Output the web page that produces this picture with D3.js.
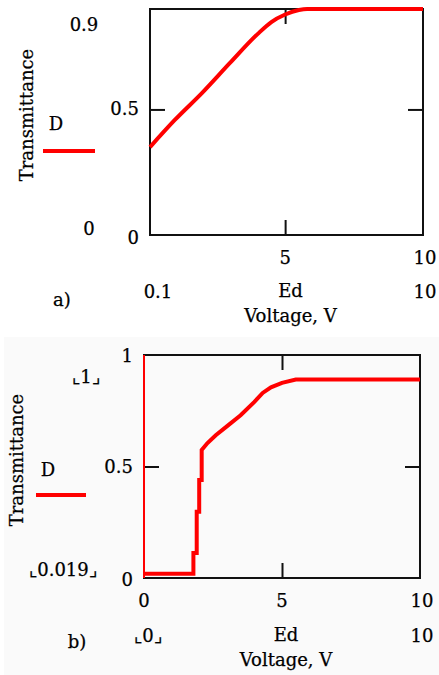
<!DOCTYPE html>
<html><head><meta charset="utf-8">
<script src="https://cdn.jsdelivr.net/npm/d3@7"></script>
<style>
html,body{margin:0;padding:0;background:#fff;}
svg{display:block;}
text{font-family:"DejaVu Serif","Liberation Serif",serif;font-size:18px;fill:#000;stroke:#000;stroke-width:0.25px;}
</style></head><body>
<svg id="c" width="439" height="675"></svg>
<script>
// Panel a data: voltage (V) vs transmittance
const voltageA = [0.1, 1.0, 2.0, 3.0, 4.0, 4.5, 5.0, 5.5, 5.8, 10];
const transA   = [0.35, 0.458, 0.567, 0.685, 0.80, 0.848, 0.878, 0.896, 0.9, 0.9];
// Panel b data
const voltageB = [0, 1.79, 1.79, 1.91, 1.91, 2.0, 2.0, 2.09, 2.09, 2.3, 2.6, 3.0, 3.5, 4.0, 4.3, 4.6, 5.0, 5.5, 10];
const transB   = [0.019, 0.019, 0.112, 0.112, 0.297, 0.297, 0.44, 0.44, 0.574, 0.605, 0.64, 0.68, 0.73, 0.79, 0.83, 0.855, 0.875, 0.89, 0.89];
const edgeVoltB = [0, 0];
const edgeTransB = [1, 0];
// axis limits / ticks
const xDomainA = [0.1, 10], yDomainA = [0, 0.9];
const xDomainB = [0, 10],   yDomainB = [0, 1];
const xTicksA = [5, 10], yTicksA = [0, 0.5];
const xTicksB = [0, 5, 10], yTicksB = [0, 0.5, 1];
const xInnerTicks = [5], yInnerTicks = [0.5];
const limitsA = {ymax: "0.9", ymin: "0", xmin: "0.1", xmax: "10"};
const limitsB = {ymax: "\u231E1\u231F", ymin: "\u231E0.019\u231F", xmin: "\u231E0\u231F", xmax: "10"};
const seriesName = "D", xName = "Ed", xTitle = "Voltage, V", yTitle = "Transmittance";

const svg = d3.select("#c");
svg.append("rect").attr("x",4).attr("y",337).attr("width",435).attr("height",338).attr("fill","#fafafa");

function panel(o){
  const g = svg.append("g");
  const x = d3.scaleLinear().domain(o.xd).range([o.l, o.r]);
  const y = d3.scaleLinear().domain(o.yd).range([o.b, o.t]);
  const tl = 15;
  g.append("g").attr("transform",`translate(0,${o.b})`).call(d3.axisBottom(x).tickValues(xInnerTicks).tickSize(-tl).tickFormat("")).call(s=>s.select(".domain").remove());
  g.append("g").attr("transform",`translate(0,${o.t})`).call(d3.axisTop(x).tickValues(xInnerTicks).tickSize(-tl).tickFormat("")).call(s=>s.select(".domain").remove());
  g.append("g").attr("transform",`translate(${o.l},0)`).call(d3.axisLeft(y).tickValues(yInnerTicks).tickSize(-tl).tickFormat("")).call(s=>s.select(".domain").remove());
  g.append("g").attr("transform",`translate(${o.r},0)`).call(d3.axisRight(y).tickValues(yInnerTicks).tickSize(-tl).tickFormat("")).call(s=>s.select(".domain").remove());
  g.selectAll(".tick line").attr("stroke","#111").attr("stroke-width",2);
  // frame
  g.append("rect").attr("x",o.l).attr("y",o.t).attr("width",o.r-o.l).attr("height",o.b-o.t)
    .attr("fill","none").attr("stroke","#111").attr("stroke-width",2);
  // tick labels
  o.xt.forEach(v=>g.append("text").attr("x",x(v)+ (v===o.xd[1]?2:0)).attr("y",o.b+29).attr("text-anchor","middle").text(d3.format("~g")(v)));
  o.yt.forEach(v=>g.append("text").attr("x",o.l-11).attr("y",y(v)+o.ylOff(v)).attr("text-anchor","end").text(d3.format("~g")(v)));
  // line
  const line = d3.line().x(d=>x(d[0])).y(d=>y(d[1]));
  if(o.edge) g.append("path").datum(d3.zip(o.edge[0],o.edge[1])).attr("d",line).attr("fill","none").attr("stroke","#ff0000").attr("stroke-width",2);
  const mainLine = o.smooth ? d3.line().x(d=>x(d[0])).y(d=>y(d[1])).curve(d3.curveMonotoneX) : line;
  g.append("path").datum(d3.zip(o.xv,o.yv)).attr("d",mainLine).attr("fill","none").attr("stroke","#ff0000").attr("stroke-width",4).attr("stroke-linejoin","miter");
  // limits
  g.append("text").attr("x",o.ymaxPos[0]).attr("y",o.ymaxPos[1]).attr("text-anchor","middle").text(o.lim.ymax);
  g.append("text").attr("x",o.yminPos[0]).attr("y",o.yminPos[1]).attr("text-anchor","middle").text(o.lim.ymin);
  g.append("text").attr("x",o.xminPos[0]).attr("y",o.xminPos[1]).attr("text-anchor","middle").text(o.lim.xmin);
  g.append("text").attr("x",x(o.xd[1])+2).attr("y",o.xminPos[1]).attr("text-anchor","middle").text(o.lim.xmax);
  g.append("text").attr("x",(o.l+o.r)/2+4).attr("y",o.xminPos[1]-1).attr("text-anchor","middle").text(xName);
  g.append("text").attr("x",(o.l+o.r)/2+4).attr("y",o.xminPos[1]+24).attr("text-anchor","middle").text(xTitle);
  g.append("text").attr("x",o.tag[0]).attr("y",o.tag[1]).attr("text-anchor","middle").text(o.tagText);
  // y title
  g.append("text").attr("transform",`translate(${o.yTitle[0]},${o.yTitle[1]}) rotate(-90)`).attr("text-anchor","middle").text(yTitle);
  // legend
  g.append("text").attr("x",o.leg[0]).attr("y",o.leg[1]).attr("text-anchor","middle").text(seriesName);
  g.append("line").attr("x1",o.legLine[0]).attr("x2",o.legLine[1]).attr("y1",o.legLine[2]).attr("y2",o.legLine[2]).attr("stroke","#ff0000").attr("stroke-width",4);
}

panel({xd:xDomainA, yd:yDomainA, l:150, r:423, t:9, b:235, xt:xTicksA, yt:yTicksA, smooth:true,
  ylOff:v=>v===0?9:6, xv:voltageA, yv:transA, lim:limitsA,
  ymaxPos:[84,31], yminPos:[89,235], xminPos:[158,298], tag:[62,306], tagText:"a)",
  yTitle:[33,115], leg:[56,130], legLine:[43,95,151]});
panel({xd:xDomainB, yd:yDomainB, l:144, r:420, t:355, b:578, xt:xTicksB, yt:yTicksB,
  ylOff:v=>v===0?8:(v===1?7:6), xv:voltageB, yv:transB, edge:[edgeVoltB,edgeTransB], lim:limitsB,
  ymaxPos:[86,383], yminPos:[63,576], xminPos:[148,642], tag:[77,648], tagText:"b)",
  yTitle:[23,460], leg:[48,476], legLine:[36,86,495]});
</script>
</body></html>
